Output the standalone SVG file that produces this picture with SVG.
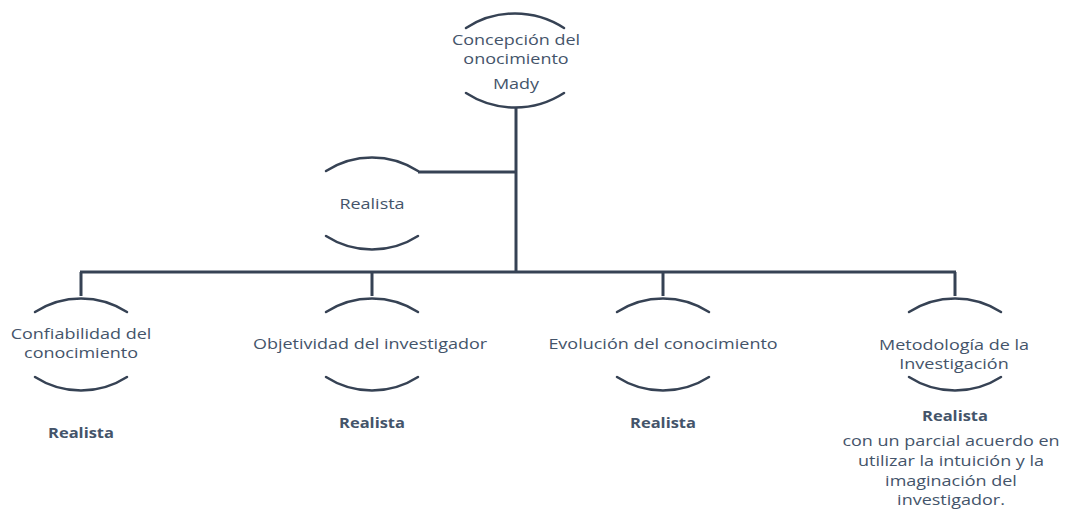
<svg xmlns="http://www.w3.org/2000/svg" width="1065" height="510" viewBox="0 0 1065 510">
  <style>
    .arc { fill: none; stroke: #364254; stroke-width: 2.5; stroke-linecap: round; }
    .wire { fill: none; stroke: #364254; stroke-width: 3; }
    text { font-family: "Open Sans", "Liberation Sans", sans-serif; font-size: 15px; fill: #44546a; text-anchor: middle; }
    .b { font-weight: bold; }
  </style>
  <rect width="1065" height="510" fill="#ffffff"/>

  <!-- connectors -->
  <g id="connectors">
    <line class="wire" x1="516" y1="108" x2="516" y2="272"/>
    <line class="wire" x1="418" y1="172" x2="516" y2="172"/>
    <line class="wire" x1="80" y1="272" x2="956" y2="272"/>
    <line class="wire" x1="81" y1="272" x2="81" y2="296"/>
    <line class="wire" x1="372" y1="272" x2="372" y2="296"/>
    <line class="wire" x1="663" y1="272" x2="663" y2="296"/>
    <line class="wire" x1="955" y1="272" x2="955" y2="296"/>
  </g>

  <!-- root -->
  <g id="node-root">
    <path class="arc" d="M466,28 A90,90 0 0 1 564,28"/>
    <path class="arc" d="M466,93 A90,90 0 0 0 564,93"/>
    <text transform="translate(516 45) scale(1.2 1)">Concepción del</text>
    <text transform="translate(516 64) scale(1.2 1)">onocimiento</text>
    <text transform="translate(516 89) scale(1.2 1)">Mady</text>
  </g>

  <g id="node-realista">
    <path class="arc" d="M326,171 A85,85 0 0 1 418,171"/>
    <path class="arc" d="M326,236 A85,85 0 0 0 418,236"/>
    <text transform="translate(372 209) scale(1.2 1)">Realista</text>
  </g>

  <g id="node-confiabilidad">
    <path class="arc" d="M35,312 A85,85 0 0 1 127,312"/>
    <path class="arc" d="M35,377 A85,85 0 0 0 127,377"/>
    <text transform="translate(81 339) scale(1.2 1)">Confiabilidad del</text>
    <text transform="translate(81 358) scale(1.2 1)">conocimiento</text>
    <text class="b" transform="translate(81 438) scale(1.1 1)">Realista</text>
  </g>

  <g id="node-objetividad">
    <path class="arc" d="M326,312 A85,85 0 0 1 418,312"/>
    <path class="arc" d="M326,377 A85,85 0 0 0 418,377"/>
    <text transform="translate(370 349) scale(1.2 1)">Objetividad del investigador</text>
    <text class="b" transform="translate(372 428) scale(1.1 1)">Realista</text>
  </g>

  <g id="node-evolucion">
    <path class="arc" d="M617,312 A85,85 0 0 1 709,312"/>
    <path class="arc" d="M617,377 A85,85 0 0 0 709,377"/>
    <text transform="translate(663 349) scale(1.2 1)">Evolución del conocimiento</text>
    <text class="b" transform="translate(663 428) scale(1.1 1)">Realista</text>
  </g>

  <g id="node-metodologia">
    <path class="arc" d="M909,312 A85,85 0 0 1 1001,312"/>
    <path class="arc" d="M909,377 A85,85 0 0 0 1001,377"/>
    <text transform="translate(954 350) scale(1.2 1)">Metodología de la</text>
    <text transform="translate(954 369) scale(1.2 1)">Investigación</text>
    <text class="b" transform="translate(955 421) scale(1.1 1)">Realista</text>
    <text transform="translate(951 446) scale(1.2 1)">con un parcial acuerdo en</text>
    <text transform="translate(951 466) scale(1.2 1)">utilizar la intuición y la</text>
    <text transform="translate(951 486) scale(1.2 1)">imaginación del</text>
    <text transform="translate(951 505) scale(1.2 1)">investigador.</text>
  </g>
</svg>
